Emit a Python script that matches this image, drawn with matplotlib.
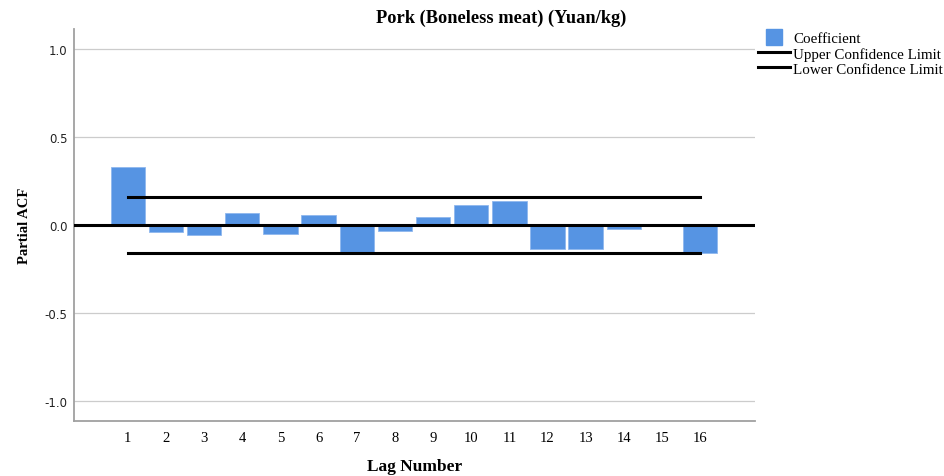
import matplotlib
matplotlib.use("Agg")
import matplotlib.pyplot as plt
from matplotlib.lines import Line2D

# data
lags = list(range(1, 17))
coefficient = [0.330, -0.038, -0.055, 0.068, -0.051, 0.059, -0.152, -0.036,
               0.044, 0.115, 0.135, -0.138, -0.138, -0.021, 0.0, -0.157]
upper_limit = 0.159
lower_limit = -0.159
yticks = [-1.0, -0.5, 0.0, 0.5, 1.0]

bar_color = "#5694e3"
serif = "Liberation Serif"

fig = plt.figure(figsize=(9.44, 4.77), dpi=100)
ax = fig.add_axes([0.0789, 0.1153, 0.7209, 0.8217])

ax.bar(lags, coefficient, width=0.9, color=bar_color, edgecolor="#8fb8ee",
       linewidth=0.6, zorder=2)
ax.plot([lags[0], lags[-1]], [upper_limit, upper_limit], color="black", lw=2.2, zorder=3)
ax.plot([lags[0], lags[-1]], [lower_limit, lower_limit], color="black", lw=2.2, zorder=3)
ax.axhline(0, color="black", lw=2.2, zorder=3)

ax.set_xlim(-0.4, 17.44)
ax.set_ylim(-1.114, 1.114)
ax.set_yticks(yticks)
ax.set_yticklabels([f"{v:.1f}" for v in yticks], fontsize=8.5, color="#222222")
ax.set_xticks(lags)
ax.set_xticklabels([str(v) for v in lags], family=serif, fontsize=10.5)
ax.tick_params(axis="y", length=0, pad=5)
ax.tick_params(axis="x", length=0, pad=7)
ax.grid(axis="y", color="#cccccc", lw=0.9, zorder=0)

for side in ("top", "right"):
    ax.spines[side].set_visible(False)
for side in ("left", "bottom"):
    ax.spines[side].set_color("#a0a0a0")
    ax.spines[side].set_linewidth(1.3)

fig.text(501 / 944, 1 - 18 / 477, "Pork (Boneless meat) (Yuan/kg)", family=serif,
         fontweight="bold", fontsize=13.2, ha="center", va="center")
ax.set_ylabel("Partial ACF", family=serif, fontweight="bold", fontsize=10.5, labelpad=10)
ax.set_xlabel("Lag Number", family=serif, fontweight="bold", fontsize=12.5, labelpad=10)

handles = [
    Line2D([], [], color=bar_color, marker="s", markersize=11, linestyle="none",
           label="Coefficient"),
    Line2D([], [], color="black", lw=2.2, label="Upper Confidence Limit"),
    Line2D([], [], color="black", lw=2.2, label="Lower Confidence Limit"),
]
fig.legend(handles=handles, loc="upper left", bbox_to_anchor=(0.803, 0.931),
           frameon=False, prop={"family": serif, "size": 10.8},
           handlelength=2.1, handletextpad=0.25, labelspacing=0.1,
           borderaxespad=0, borderpad=0)

fig.savefig("out.png", dpi=100)
plt.close(fig)
